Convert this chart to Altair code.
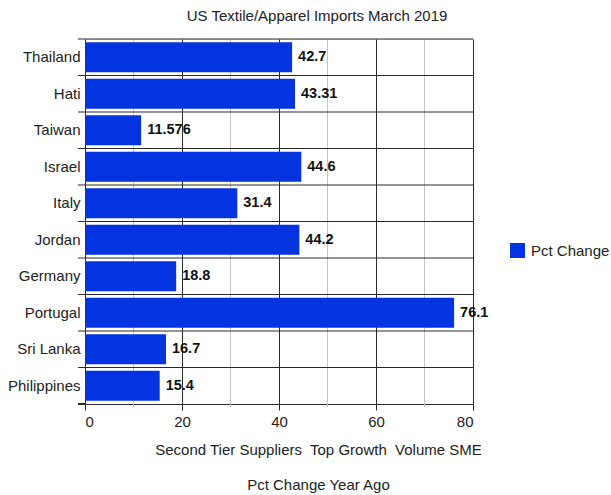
import altair as alt
import pandas as pd

countries = ["Thailand", "Hati", "Taiwan", "Israel", "Italy", "Jordan",
             "Germany", "Portugal", "Sri Lanka", "Philippines"]
values = [42.7, 43.31, 11.576, 44.6, 31.4, 44.2, 18.8, 76.1, 16.7, 15.4]
labels = ["42.7", "43.31", "11.576", "44.6", "31.4", "44.2", "18.8", "76.1", "16.7", "15.4"]
series_name = "Pct Change"
major_ticks = [0, 20, 40, 60, 80]
minor_ticks = [10, 30, 50, 70]

W, H = 388, 365
BLUE = "#0433e0"
FONT = "Liberation Sans"

df = pd.DataFrame({"country": countries, "value": values, "label": labels,
                   "series": [series_name] * len(countries)})
minor_df = pd.DataFrame({"v": minor_ticks})

xscale = alt.Scale(domain=[0, 80], nice=False)
yscale = alt.Scale(paddingInner=0, paddingOuter=0)

x_axis = alt.Axis(values=major_ticks, grid=True, gridColor="#2a2a2a",
                  gridOpacity=1, tickColor="#2a2a2a", tickSize=6,
                  domainColor="#2a2a2a", labelPadding=4, labelFontSize=15,
                  labelColor="#222222", labelFont=FONT,
                  title=["Second Tier Suppliers\u00a0 Top Growth\u00a0 Volume SME",
                         "Pct Change Year Ago"],
                  titleFontSize=15, titleFontWeight="normal", titleColor="#222222",
                  titleFont=FONT, titleX=233, titleY=50, titleAlign="center",
                  titleBaseline="alphabetic", titleLineHeight=35)
y_axis = alt.Axis(title=None, ticks=False, domain=False, grid=False,
                  labelPadding=5, labelFontSize=15, labelColor="#222222",
                  labelFont=FONT)

minor_grid = alt.Chart(minor_df).mark_rule(color="#c4c4c4", strokeWidth=1).encode(
    x=alt.X("v:Q", scale=xscale, axis=x_axis),
    y=alt.value(0), y2=alt.value(H + 3),
)

band_lines = alt.Chart(df).mark_rule(color="#2a2a2a", strokeWidth=1).encode(
    y=alt.Y("country:N", sort=countries, scale=yscale, bandPosition=0, axis=y_axis),
    x=alt.value(-7), x2=alt.value(W),
)

bottom_tick = alt.Chart(df).mark_rule(color="#2a2a2a", strokeWidth=1).encode(
    y=alt.value(H), x=alt.value(-7), x2=alt.value(0),
)

bars = alt.Chart(df).mark_bar(height={"band": 0.82}).encode(
    x=alt.X("value:Q", scale=xscale, axis=x_axis),
    y=alt.Y("country:N", sort=countries, scale=yscale, axis=y_axis),
    color=alt.Color("series:N",
                    scale=alt.Scale(domain=[series_name], range=[BLUE]),
                    legend=alt.Legend(title=None, orient="none", legendX=425, legendY=204,
                                      symbolType="square", symbolSize=225,
                                      symbolStrokeWidth=0, labelFontSize=15,
                                      labelColor="#222222", labelFont=FONT,
                                      padding=0, labelOffset=6)),
)

text = alt.Chart(df).mark_text(align="left", baseline="middle", dx=6, fontSize=14.5,
                               fontWeight="bold", color="#111111", font=FONT).encode(
    x=alt.X("value:Q", scale=xscale, axis=x_axis),
    y=alt.Y("country:N", sort=countries, scale=yscale, axis=y_axis),
    text="label:N",
)

chart = alt.layer(minor_grid, band_lines, bottom_tick, bars, text).properties(
    width=W, height=H,
    autosize=alt.AutoSizeParams(type="none"),
    padding={"left": 85, "top": 39, "right": 138, "bottom": 91},
    title=alt.Title("US Textile/Apparel Imports March 2019", fontSize=15,
                    fontWeight="normal", color="#222222", font=FONT,
                    anchor="middle", dx=38, offset=15),
).configure_view(stroke="#2a2a2a", strokeWidth=1).configure(font=FONT, background="white")

chart.save("out.html", embed_options={"renderer": "svg", "actions": False})
